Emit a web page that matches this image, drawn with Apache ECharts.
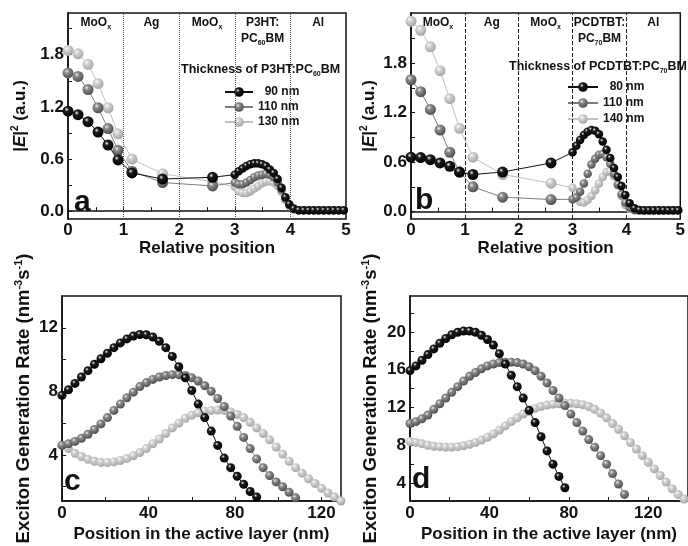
<!DOCTYPE html>
<html>
<head>
<meta charset="utf-8">
<script src="https://cdn.jsdelivr.net/npm/echarts@6/dist/echarts.min.js"></script>
<style>
  html, body { margin: 0; padding: 0; background: #fff; }
  #chart { width: 688px; height: 546px; }
</style>
</head>
<body>
<div id="chart"></div>
<script>
// relative position across the stack (panels a, b)
const relPos = [0, 0.18, 0.36, 0.54, 0.72, 0.9, 1.15, 1.7, 2.6,
  3.0, 3.07, 3.14, 3.21, 3.28, 3.35, 3.42, 3.49, 3.56, 3.63, 3.7, 3.77, 3.84, 3.91, 3.98,
  4.06, 4.15, 4.24, 4.33, 4.42, 4.51, 4.6, 4.69, 4.78, 4.87, 4.96];
const layerEdges = [0, 1, 2, 3, 4, 5];
const layersA = ['MoO{s|x}', 'Ag', 'MoO{s|x}', 'P3HT:\nPC{s|60}BM', 'Al'];
const layersB = ['MoO{s|x}', 'Ag', 'MoO{s|x}', 'PCDTBT:\nPC{s|70}BM', 'Al'];
const thickA = ['90 nm', '110 nm', '130 nm'];
const thickB = ['80 nm', '110 nm', '140 nm'];

// |E|^2 (a.u.)
const fieldA90 = [1.15, 1.11, 1.03, 0.91, 0.76, 0.59, 0.44, 0.37, 0.39,
  0.42, 0.46, 0.49, 0.52, 0.54, 0.55, 0.55, 0.54, 0.52, 0.48, 0.44, 0.37, 0.27, 0.16, 0.08,
  0.03, 0.012, 0.01, 0.01, 0.01, 0.01, 0.01, 0.01, 0.01, 0.01, 0.01];
const fieldA110 = [1.59, 1.55, 1.40, 1.19, 0.95, 0.70, 0.46, 0.33, 0.29,
  0.33, 0.31, 0.31, 0.33, 0.36, 0.39, 0.41, 0.42, 0.43, 0.42, 0.39, 0.33, 0.25, 0.15, 0.07,
  0.025, 0.012, 0.01, 0.01, 0.01, 0.01, 0.01, 0.01, 0.01, 0.01, 0.01];
const fieldA130 = [1.85, 1.81, 1.69, 1.47, 1.19, 0.89, 0.60, 0.43, 0.34,
  0.28, 0.23, 0.21, 0.21, 0.23, 0.26, 0.29, 0.32, 0.34, 0.345, 0.33, 0.29, 0.22, 0.13, 0.06,
  0.02, 0.01, 0.01, 0.01, 0.01, 0.01, 0.01, 0.01, 0.01, 0.01, 0.01];
const fieldB80 = [0.66, 0.655, 0.63, 0.59, 0.55, 0.48, 0.45, 0.48, 0.59,
  0.72, 0.80, 0.87, 0.93, 0.97, 0.99, 0.98, 0.94, 0.85, 0.75, 0.65, 0.53, 0.42, 0.31, 0.20,
  0.10, 0.04, 0.02, 0.015, 0.015, 0.015, 0.015, 0.015, 0.015, 0.015, 0.015];
const fieldB110 = [1.6, 1.455, 1.24, 0.99, 0.72, 0.48, 0.30, 0.175, 0.146,
  0.15, 0.17, 0.24, 0.34, 0.46, 0.57, 0.64, 0.69, 0.70, 0.66, 0.58, 0.46, 0.33, 0.21, 0.11,
  0.05, 0.02, 0.015, 0.015, 0.015, 0.015, 0.015, 0.015, 0.015, 0.015, 0.015];
const fieldB140 = [2.31, 2.2, 2.0, 1.71, 1.37, 1.01, 0.66, 0.45, 0.345,
  0.29, 0.18, 0.12, 0.11, 0.14, 0.19, 0.26, 0.34, 0.42, 0.48, 0.49, 0.43, 0.32, 0.19, 0.08,
  0.03, 0.015, 0.01, 0.01, 0.01, 0.01, 0.01, 0.01, 0.01, 0.01, 0.01];

// position in the active layer (nm), panels c, d
const posNm = [0, 3, 6, 9, 12, 15, 18, 21, 24, 27, 30, 33, 36, 39, 42, 45, 48, 51, 54, 57,
  60, 63, 66, 69, 72, 75, 78, 81, 84, 87, 90, 93, 96, 99, 102, 105, 108, 111, 114, 117,
  120, 123, 126, 129, 132, 135, 138];

// exciton generation rate
const genC90 = [7.75, 8.1, 8.5, 8.9, 9.3, 9.7, 10.05, 10.4, 10.75, 11.05, 11.3, 11.48, 11.58,
  11.56, 11.42, 11.15, 10.75, 10.2, 9.55, 8.85, 8.05, 7.2, 6.35, 5.5, 4.6, 3.8, 3.2, 2.65,
  2.15, 1.7, 1.35];
const genC110 = [4.6, 4.7, 4.85, 5.05, 5.3, 5.6, 5.95, 6.35, 6.8, 7.2, 7.6, 7.95, 8.3, 8.55,
  8.75, 8.9, 9.0, 9.05, 9.05, 9.0, 8.85, 8.65, 8.35, 8.0, 7.55, 7.05, 6.45, 5.8, 5.1, 4.4,
  3.75, 3.2, 2.7, 2.3, 2.0, 1.65, 1.3];
const genC130 = [4.6, 4.4, 4.1, 3.9, 3.72, 3.6, 3.53, 3.52, 3.56, 3.65, 3.78, 3.95, 4.15, 4.4,
  4.7, 5.0, 5.35, 5.7, 6.0, 6.3, 6.5, 6.65, 6.75, 6.8, 6.82, 6.8, 6.7, 6.55, 6.35, 6.05,
  5.7, 5.35, 4.95, 4.5, 4.05, 3.6, 3.2, 2.85, 2.5, 2.2, 1.9, 1.6, 1.35, 1.1];
const genD80 = [15.9, 16.4, 17.0, 17.6, 18.2, 18.8, 19.3, 19.7, 19.95, 20.1, 20.1, 19.95, 19.65,
  19.2, 18.6, 17.7, 16.6, 15.4, 14.2, 13.0, 11.7, 10.4, 8.9, 7.4, 6.0, 4.7, 3.5];
const genD110 = [10.3, 10.5, 10.8, 11.2, 11.8, 12.4, 13.0, 13.6, 14.2, 14.8, 15.3, 15.7, 16.1,
  16.4, 16.6, 16.75, 16.8, 16.8, 16.75, 16.6, 16.3, 15.9, 15.3, 14.6, 13.8, 13.0, 12.2, 11.3,
  10.4, 9.5, 8.6, 7.8, 6.9, 6.0, 5.0, 3.9, 2.8];
const genD140 = [8.4, 8.3, 8.15, 8.0, 7.9, 7.85, 7.8, 7.8, 7.85, 7.95, 8.1, 8.3, 8.55, 8.85,
  9.2, 9.6, 10.05, 10.5, 10.9, 11.3, 11.6, 11.9, 12.1, 12.25, 12.35, 12.4, 12.45, 12.45, 12.4,
  12.3, 12.1, 11.8, 11.4, 10.9, 10.3, 9.7, 9.0, 8.3, 7.6, 6.9, 6.2, 5.5, 4.8, 4.1, 3.4, 2.8, 2.3];

// tick positions
const relTicks = [0, 1, 2, 3, 4, 5];
const relMinor = [0, 0.5, 1, 1.5, 2, 2.5, 3, 3.5, 4, 4.5, 5];
const fieldTicks = [0, 0.6, 1.2, 1.8];
const fieldMinor = [0, 0.3, 0.6, 0.9, 1.2, 1.5, 1.8, 2.1];
const nmTicks = [0, 40, 80, 120];
const nmMinor = [0, 20, 40, 60, 80, 100, 120];
const genTicksC = [4, 8, 12];
const genMinorC = [2, 4, 6, 8, 10, 12];
const genTicksD = [4, 8, 12, 16, 20];
const genMinorD = [4, 6, 8, 10, 12, 14, 16, 18, 20, 22];

const FONT = 'Liberation Sans, Arial, sans-serif';
const INK = '#111';

function sphere(hi, mid, lo) {
  return {
    type: 'radial', x: 0.38, y: 0.34, r: 0.66,
    colorStops: [{ offset: 0, color: hi }, { offset: 0.3, color: mid }, { offset: 1, color: lo }]
  };
}
const shades = [
  { line: '#111111', fill: sphere('#f2f2f2', '#1c1c1c', '#000000') },
  { line: '#7c7c7c', fill: sphere('#eeeeee', '#8c8c8c', '#4e4e4e') },
  { line: '#c2c2c2', fill: sphere('#ffffff', '#d2d2d2', '#a6a6a6') }
];

const chart = echarts.init(document.getElementById('chart'));

const subRich = {
  s: { fontSize: 7, lineHeight: 8, verticalAlign: 'bottom', fontWeight: 'bold', fontFamily: FONT, color: INK }
};

function xAxisRel(grid) {
  return {
    gridIndex: grid, type: 'value', min: 0, max: 5,
    axisLine: { lineStyle: { color: INK, width: 1.5 } },
    axisTick: { inside: true, length: 4, customValues: relMinor, lineStyle: { color: INK } },
    axisLabel: { customValues: relTicks, fontSize: 17, fontWeight: 'bold', fontFamily: FONT, color: INK, margin: 3 },
    splitLine: { show: false },
    name: 'Relative position', nameLocation: 'middle', nameGap: 20,
    nameTextStyle: { fontSize: 17, fontWeight: 'bold', fontFamily: FONT, color: INK }
  };
}
function yAxisField(grid, max, gap) {
  return {
    gridIndex: grid, type: 'value', min: -0.09, max: max,
    axisLine: { lineStyle: { color: INK, width: 1.5 } },
    axisTick: { inside: true, length: 4, customValues: fieldMinor, lineStyle: { color: INK } },
    axisLabel: {
      customValues: fieldTicks, fontSize: 17, fontWeight: 'bold', fontFamily: FONT, color: INK, margin: 4,
      formatter: v => v.toFixed(1)
    },
    splitLine: { show: false },
    name: '|{i|E}|{p|2} (a.u.)', nameLocation: 'middle', nameGap: gap,
    nameTextStyle: {
      fontSize: 17, fontWeight: 'bold', fontFamily: FONT, color: INK, lineHeight: 20,
      rich: {
        i: { fontSize: 17, fontStyle: 'italic', fontWeight: 'bold', fontFamily: FONT, color: INK, lineHeight: 20 },
        p: { fontSize: 10, fontWeight: 'bold', fontFamily: FONT, color: INK, lineHeight: 10, verticalAlign: 'top' }
      }
    }
  };
}
function xAxisNm(grid, max) {
  return {
    gridIndex: grid, type: 'value', min: 0, max: max,
    axisLine: { lineStyle: { color: INK, width: 1.5 } },
    axisTick: { inside: true, length: 4, customValues: nmMinor, lineStyle: { color: INK } },
    axisLabel: { customValues: nmTicks, fontSize: 17, fontWeight: 'bold', fontFamily: FONT, color: INK, margin: 4 },
    splitLine: { show: false },
    name: 'Position in the active layer (nm)', nameLocation: 'middle', nameGap: 25,
    nameTextStyle: { fontSize: 17, fontWeight: 'bold', fontFamily: FONT, color: INK }
  };
}
function yAxisGen(grid, min, max, ticks, minor, gap) {
  return {
    gridIndex: grid, type: 'value', min: min, max: max,
    axisLine: { lineStyle: { color: INK, width: 1.5 } },
    axisTick: { inside: true, length: 4, customValues: minor, lineStyle: { color: INK } },
    axisLabel: { customValues: ticks, fontSize: 17, fontWeight: 'bold', fontFamily: FONT, color: INK, margin: 4 },
    splitLine: { show: false },
    name: 'Exciton Generation Rate (nm{p|-3}s{p|-1})', nameLocation: 'middle', nameGap: gap,
    nameTextStyle: {
      fontSize: 18.5, fontWeight: 'bold', fontFamily: FONT, color: INK, lineHeight: 22,
      rich: { p: { fontSize: 11, fontWeight: 'bold', fontFamily: FONT, color: INK, lineHeight: 11, verticalAlign: 'top' } }
    }
  };
}

function layerMarks(labels, dividerType, dividerColor) {
  return {
    markArea: {
      silent: true,
      itemStyle: { color: 'rgba(0,0,0,0)' },
      label: {
        position: 'insideTop', distance: 2, fontSize: 12, fontWeight: 'bold', fontFamily: FONT,
        color: INK, lineHeight: 16, rich: subRich
      },
      data: labels.map((t, i) => [{ xAxis: layerEdges[i], name: t }, { xAxis: layerEdges[i + 1] }])
    },
    markLine: {
      silent: true, symbol: ['none', 'none'], label: { show: false },
      lineStyle: { type: dividerType, color: dividerColor, width: 1 },
      data: layerEdges.slice(1, -1).map(v => ({ xAxis: v }))
    }
  };
}

function curve(name, shade, grid, xs, ys, size, extra) {
  return Object.assign({
    name: name, type: 'line', xAxisIndex: grid, yAxisIndex: grid,
    data: ys.map((v, i) => [xs[i], v]),
    symbol: 'circle', symbolSize: size, showSymbol: true,
    lineStyle: { color: shades[shade].line, width: 1 },
    itemStyle: { color: shades[shade].fill },
    z: 10 - shade
  }, extra || {});
}
const relSize = v => (v[0] < 2.9 ? 11 : 8.5);

const series = [
  curve(thickA[2], 2, 0, relPos, fieldA130, relSize, layerMarks(layersA, 'dotted', '#555')),
  curve(thickA[1], 1, 0, relPos, fieldA110, relSize),
  curve(thickA[0], 0, 0, relPos, fieldA90, relSize),
  curve(thickB[2], 2, 1, relPos, fieldB140, relSize, layerMarks(layersB, 'dashed', '#222')),
  curve(thickB[1], 1, 1, relPos, fieldB110, relSize),
  curve(thickB[0], 0, 1, relPos, fieldB80, relSize),
  curve(thickA[2], 2, 2, posNm, genC130, 9),
  curve(thickA[1], 1, 2, posNm, genC110, 9),
  curve(thickA[0], 0, 2, posNm, genC90, 9),
  curve(thickB[2], 2, 3, posNm, genD140, 9),
  curve(thickB[1], 1, 3, posNm, genD110, 9),
  curve(thickB[0], 0, 3, posNm, genD80, 9)
];

const frame = { show: true, borderColor: INK, borderWidth: 1.5, backgroundColor: 'rgba(0,0,0,0)' };
const legendText = { fontSize: 12, fontWeight: 'bold', fontFamily: FONT, color: INK };
const padName = n => (n.length < 6 ? '  ' + n : n);

function letter(t, left, top) {
  return { text: t, left: left, top: top, padding: 0,
    textStyle: { fontSize: 30, fontWeight: 'bold', fontFamily: FONT, color: INK } };
}
function legendTitle(t, left, top) {
  return { text: t, left: left, top: top, padding: 0,
    textStyle: { fontSize: 12.5, fontWeight: 'bold', fontFamily: FONT, color: INK, lineHeight: 16, rich: subRich } };
}

chart.setOption({
  animation: false,
  backgroundColor: '#fff',
  grid: [
    Object.assign({ left: 68, top: 13, width: 278, height: 206 }, frame),
    Object.assign({ left: 411, top: 13, width: 278, height: 206 }, frame),
    Object.assign({ left: 62, top: 296, width: 279, height: 205 }, frame),
    Object.assign({ left: 410, top: 296, width: 278, height: 205 }, frame)
  ],
  xAxis: [xAxisRel(0), xAxisRel(1), xAxisNm(2, 129), xAxisNm(3, 140)],
  yAxis: [
    yAxisField(0, 2.28, 38),
    yAxisField(1, 2.41, 31),
    yAxisGen(2, 1.1, 14, genTicksC, genMinorC, 27),
    yAxisGen(3, 2.1, 23.8, genTicksD, genMinorD, 28)
  ],
  title: [
    letter('a', 74, 188),
    letter('b', 415, 186),
    letter('c', 64, 467),
    letter('d', 412, 465),
    legendTitle('Thickness of P3HT:PC{s|60}BM', 181, 62),
    legendTitle('Thickness of PCDTBT:PC{s|70}BM', 509, 59)
  ],
  legend: [
    { data: thickA, orient: 'vertical', left: 224, top: 86, itemWidth: 28, itemHeight: 12, itemGap: 3,
      padding: 0, textStyle: legendText, formatter: padName, selectedMode: false },
    { data: thickB, orient: 'vertical', left: 567, top: 81, itemWidth: 30, itemHeight: 12, itemGap: 4,
      padding: 0, textStyle: legendText, formatter: padName, selectedMode: false }
  ],
  series: series
});
</script>
</body>
</html>
